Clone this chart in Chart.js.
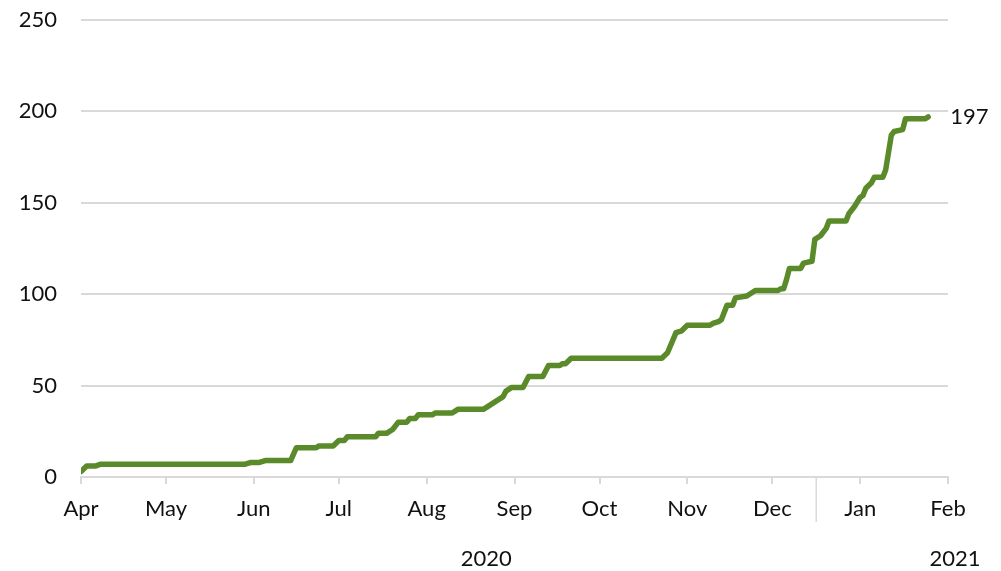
<!DOCTYPE html>
<html>
<head>
<meta charset="utf-8">
<script src="https://cdn.jsdelivr.net/npm/chart.js@4"></script>
<style>
  html, body { margin: 0; padding: 0; background: #fff; }
  #chart { display: block; }
</style>
</head>
<body>
<canvas id="chart" width="1001" height="571"></canvas>
<script>
// cumulative count (step changes only)
const dates = [
  "2020-04-01","2020-04-03","2020-04-06","2020-04-08","2020-05-29","2020-05-31",
  "2020-06-03","2020-06-05","2020-06-14","2020-06-16","2020-06-23","2020-06-24",
  "2020-06-29","2020-07-01","2020-07-03","2020-07-04","2020-07-14","2020-07-15",
  "2020-07-18","2020-07-19","2020-07-20","2020-07-22","2020-07-25","2020-07-26",
  "2020-07-28","2020-07-29","2020-08-03","2020-08-04","2020-08-10","2020-08-12",
  "2020-08-21","2020-08-28","2020-08-29","2020-08-31","2020-09-04","2020-09-06",
  "2020-09-11","2020-09-13","2020-09-17","2020-09-18","2020-09-19","2020-09-21",
  "2020-10-23","2020-10-25","2020-10-28","2020-10-30","2020-11-01","2020-11-09",
  "2020-11-10","2020-11-12","2020-11-13","2020-11-15","2020-11-17","2020-11-18",
  "2020-11-22","2020-11-25","2020-12-03","2020-12-04","2020-12-05","2020-12-06",
  "2020-12-07","2020-12-11","2020-12-12","2020-12-15","2020-12-16","2020-12-18",
  "2020-12-20","2020-12-21","2020-12-27","2020-12-28","2020-12-30","2021-01-01",
  "2021-01-02","2021-01-03","2021-01-05","2021-01-06","2021-01-09","2021-01-10",
  "2021-01-12","2021-01-13","2021-01-16","2021-01-17","2021-01-24","2021-01-25"
];
const values = [
  3, 6, 6, 7, 7, 8,
  8, 9, 9, 16, 16, 17,
  17, 20, 20, 22, 22, 24,
  24, 25, 26, 30, 30, 32,
  32, 34, 34, 35, 35, 37,
  37, 44, 47, 49, 49, 55,
  55, 61, 61, 62, 62, 65,
  65, 68, 79, 80, 83, 83,
  84, 85, 86, 94, 94, 98,
  99, 102, 102, 103, 103, 108,
  114, 114, 117, 118, 130, 132,
  136, 140, 140, 144, 148, 153,
  154, 158, 161, 164, 164, 168,
  187, 189, 190, 196, 196, 197
];

const monthStarts = ["2020-04-01","2020-05-01","2020-06-01","2020-07-01","2020-08-01","2020-09-01",
  "2020-10-01","2020-11-01","2020-12-01","2021-01-01","2021-02-01"];
const monthLabels = ["Apr","May","Jun","Jul","Aug","Sep","Oct","Nov","Dec","Jan","Feb"];
const yearLabels = ["2020","2021"];
const yTicks = [0, 50, 100, 150, 200, 250];

const FONT = "Lato";
const TXT = "#111";
const GRID = "#d9d9d9";
const GREEN = "#5a8a2a";

const dayMs = 86400000;
const origin = Date.UTC(2020, 3, 1);
function dayOf(s) {
  const p = s.split("-").map(Number);
  return Math.round((Date.UTC(p[0], p[1] - 1, p[2]) - origin) / dayMs);
}
const monthDays = monthStarts.map(dayOf);
const points = dates.map((d, i) => ({ x: dayOf(d), y: values[i] }));

const extras = {
  id: "extras",
  afterDraw(chart) {
    const c = chart.ctx;
    const xs = chart.scales.x;
    const area = chart.chartArea;
    c.save();
    // group separator between Dec and Jan
    const sep = (xs.getPixelForValue(monthDays[8]) + xs.getPixelForValue(monthDays[9])) / 2;
    c.strokeStyle = GRID;
    c.lineWidth = 1.5;
    c.beginPath();
    c.moveTo(sep, area.bottom);
    c.lineTo(sep, area.bottom + 45);
    c.stroke();
    // year labels
    c.fillStyle = TXT;
    c.font = "22px " + FONT;
    c.textAlign = "center";
    c.textBaseline = "middle";
    c.fillText(yearLabels[0], xs.getPixelForValue(143), 559);
    c.fillText(yearLabels[1], xs.getPixelForValue(308.5), 559);
    // end value label
    const meta = chart.getDatasetMeta(0);
    const last = meta.data[meta.data.length - 1];
    c.textAlign = "left";
    c.fillText(String(values[values.length - 1]), last.x + 22, last.y);
    c.restore();
  }
};

new Chart(document.getElementById("chart"), {
  type: "line",
  data: {
    datasets: [{
      data: points,
      borderColor: GREEN,
      borderWidth: 5.5,
      borderCapStyle: "round",
      borderJoinStyle: "round",
      pointRadius: 0,
      tension: 0,
      fill: false
    }]
  },
  options: {
    responsive: false,
    animation: false,
    events: [],
    layout: { padding: { top: 20, right: 53, left: 0, bottom: 0 } },
    plugins: { legend: { display: false }, tooltip: { enabled: false } },
    scales: {
      x: {
        type: "linear",
        min: monthDays[0],
        max: monthDays[monthDays.length - 1],
        afterBuildTicks(scale) {
          scale.ticks = monthDays.map(v => ({ value: v }));
        },
        afterFit(scale) {
          scale.height = 94;
          scale.paddingLeft = 0;
          scale.paddingRight = 0;
        },
        ticks: {
          autoSkip: false,
          maxRotation: 0,
          padding: 12,
          color: TXT,
          font: { family: FONT, size: 22 },
          callback: (v, i) => monthLabels[i]
        },
        grid: { drawOnChartArea: false, color: GRID, lineWidth: 2, tickLength: 7 },
        border: { color: GRID, width: 2 }
      },
      y: {
        min: 0,
        max: 250,
        afterBuildTicks(scale) {
          scale.ticks = yTicks.map(v => ({ value: v }));
        },
        afterFit(scale) {
          scale.width = 81;
          scale.paddingTop = 0;
          scale.paddingBottom = 0;
        },
        ticks: {
          padding: 24,
          color: TXT,
          font: { family: FONT, size: 22 }
        },
        grid: { color: GRID, lineWidth: 2, drawTicks: false },
        border: { display: false }
      }
    }
  },
  plugins: [extras]
});
</script>
</body>
</html>
